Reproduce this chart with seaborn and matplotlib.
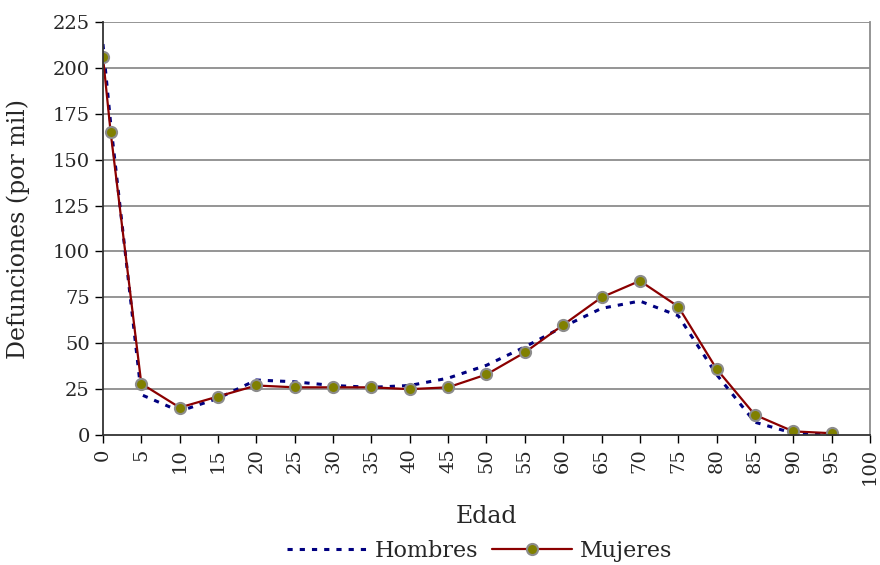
import pandas as pd
import matplotlib
matplotlib.use("Agg")
import matplotlib.pyplot as plt
import seaborn as sns

# Defunciones por edad (por mil)
edades = [0, 1, 5, 10, 15, 20, 25, 30, 35, 40, 45, 50, 55, 60, 65, 70, 75, 80, 85, 90, 95]
hombres = [213, 170, 22, 13, 20, 30, 29, 27, 26, 27, 31, 38, 48, 59, 69, 73, 65, 33, 7, 1, 0]
mujeres = [206, 165, 28, 15, 21, 27, 26, 26, 26, 25, 26, 33, 45, 60, 75, 84, 70, 36, 11, 2, 1]

df = pd.DataFrame({'Edad': edades, 'Hombres': hombres, 'Mujeres': mujeres})

sns.set_style('white')
plt.rcParams['font.family'] = ['DejaVu Serif']

fig = plt.figure(figsize=(8.8, 5.65), dpi=100)
ax = fig.add_axes([0.117, 0.230, 0.8716, 0.731])

for y in range(25, 226, 25):
    ax.axhline(y, color='#8c8c8c', lw=1.3, zorder=0)

sns.lineplot(x='Edad', y='Hombres', data=df, ax=ax, color='#000080', lw=2.2,
             linestyle=(0, (1.7, 2.3)), label='Hombres', legend=False)
sns.lineplot(x='Edad', y='Mujeres', data=df, ax=ax, color='#8b0000', lw=1.6,
             marker='o', markersize=8, markerfacecolor='#808000',
             markeredgecolor='#8c8c8c', markeredgewidth=1.5, label='Mujeres',
             legend=False)

ax.set_xlim(0, 100)
ax.set_ylim(0, 225)
ax.set_xticks(range(0, 101, 5))
ax.set_yticks(range(0, 226, 25))
ax.tick_params(axis='x', labelrotation=90, labelsize=14, direction='out',
               length=6, width=1, color='black', bottom=True)
ax.tick_params(axis='y', labelsize=14, direction='out', length=6, width=1,
               color='black', left=True)
for s in ['left', 'bottom']:
    ax.spines[s].set_color('#333333')
    ax.spines[s].set_linewidth(1.3)
ax.spines['top'].set_visible(False)
ax.spines['right'].set_color('#8c8c8c')
ax.spines['right'].set_linewidth(1.3)

ax.set_xlabel('Edad', fontsize=17, labelpad=14)
ax.set_ylabel('Defunciones (por mil)', fontsize=17, labelpad=16)

handles, labels = ax.get_legend_handles_labels()
fig.legend(handles, labels, loc='center', bbox_to_anchor=(0.545, 0.025), ncol=2,
           frameon=False, fontsize=16, handlelength=3.6, columnspacing=0.6,
           handletextpad=0.35, borderpad=0)

plt.savefig('out.png', dpi=100)
